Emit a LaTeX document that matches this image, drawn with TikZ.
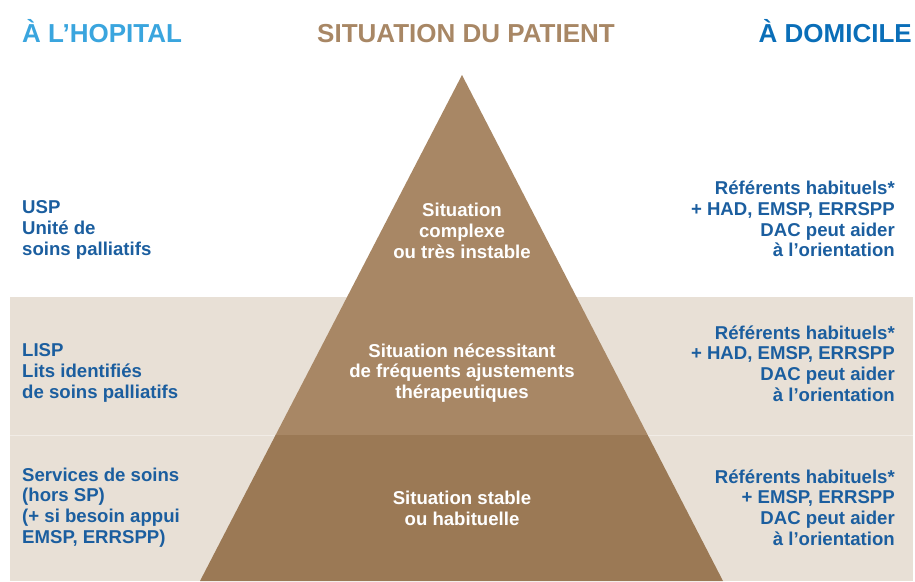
\documentclass[tikz,border=0pt]{standalone}
\usepackage{fontspec}
\setmainfont{Liberation Sans}
\definecolor{beige}{HTML}{E8E0D6}
\definecolor{brownA}{HTML}{A88765}
\definecolor{brownB}{HTML}{9B7955}
\definecolor{blueL}{HTML}{3AA5DE}
\definecolor{blueD}{HTML}{0A6EB8}
\definecolor{blueT}{HTML}{1B5E9F}
\begin{document}
\begin{tikzpicture}[x=1pt,y=-1pt,
  ttl/.style={inner sep=0pt,font=\fontsize{26}{30}\selectfont\bfseries},
  body/.style={inner sep=0pt,font=\fontsize{18.6}{20.7}\selectfont\bfseries},
  lefttxt/.style={body,text=blueT,anchor=west,align=left},
  righttxt/.style={body,text=blueT,anchor=east,align=right},
  midtxt/.style={body,text=white,anchor=center,align=center}]
\useasboundingbox (0,0) rectangle (915,581);
% background bands
\fill[beige] (10,297) rectangle (913,581);
\draw[line width=1pt,color=beige!60!white] (10,435) -- (913,435);
% pyramid
\fill[brownA] (462,75) -- (275.6,435) -- (647.7,435) -- cycle;
\fill[brownB] (275.6,435) -- (647.7,435) -- (723,581) -- (200,581) -- cycle;
% titles
\node[ttl,text=blueL,anchor=base west] (t1) at (22,42) {À L’HOPITAL};
\node[ttl,text=brownA,anchor=base] (t2) at (466,42) {SITUATION DU PATIENT};
\node[ttl,text=blueD,anchor=base east] (t3) at (912,42) {À DOMICILE};
% left column
\node[lefttxt] (l1) at (22,230) {USP\\Unité de\\soins palliatifs};
\node[lefttxt] (l2) at (22,373) {LISP\\Lits identifiés\\de soins palliatifs};
\node[lefttxt] (l3) at (22,507.5) {Services de soins\\(hors SP)\\(+ si besoin appui\\EMSP, ERRSPP)};
% middle
\node[midtxt] (m1) at (462,231) {Situation\\complexe\\ou très instable};
\node[midtxt] (m2) at (462,373) {Situation nécessitant\\de fréquents ajustements\\thérapeutiques};
\node[midtxt] (m3) at (462,508) {Situation stable\\ou habituelle};
% right column
\node[righttxt] (r1) at (895,219) {Référents habituels*\\+ HAD, EMSP, ERRSPP\\DAC peut aider\\à l’orientation};
\node[righttxt] (r2) at (895,363.5) {Référents habituels*\\+ HAD, EMSP, ERRSPP\\DAC peut aider\\à l’orientation};
\node[righttxt] (r3) at (895,507.5) {Référents habituels*\\+ EMSP, ERRSPP\\DAC peut aider\\à l’orientation};
\end{tikzpicture}
\end{document}
